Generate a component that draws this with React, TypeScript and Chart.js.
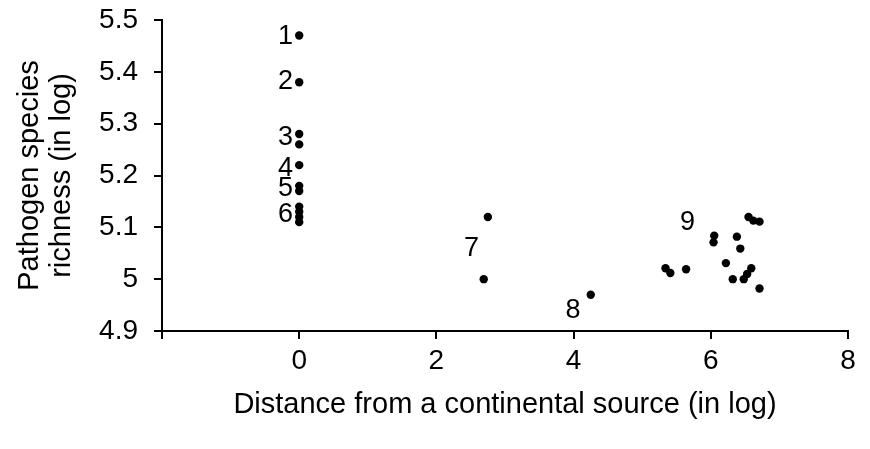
import React, { useEffect, useRef } from "react";
import { Chart, registerables } from "chart.js";

Chart.register(...registerables);

// Distance from a continental source (in log) and pathogen species richness (in log)
const distance = [
  0, 0, 0, 0, 0, 0, 0, 0, 0, 0, 0,
  2.75, 2.69,
  4.25,
  6.55, 6.62, 6.71, 6.05, 6.04, 6.38, 6.43, 5.34, 5.41, 5.64, 6.22, 6.32, 6.48, 6.53, 6.59, 6.71,
];
const richness = [
  5.47, 5.38, 5.28, 5.26, 5.22, 5.18, 5.17, 5.14, 5.13, 5.12, 5.11,
  5.12, 5.0,
  4.97,
  5.12, 5.113, 5.111, 5.084, 5.071, 5.082, 5.059, 5.021, 5.012, 5.019, 5.031, 5.0, 5.0, 5.01, 5.021, 4.982,
];

// Group annotations (text and their data-space anchor)
const groupLabels = ["1", "2", "3", "4", "5", "6", "7", "8", "9"];
const groupLabelX = [-0.2, -0.2, -0.2, -0.2, -0.2, -0.2, 2.51, 3.99, 5.66];
const groupLabelY = [5.468, 5.382, 5.274, 5.214, 5.174, 5.124, 5.06, 4.94, 5.11];

const xTickValues = [-2, 0, 2, 4, 6, 8];
const yTickValues = [4.9, 5.0, 5.1, 5.2, 5.3, 5.4, 5.5];

const xTitle = "Distance from a continental source (in log)";
const yTitle = ["Pathogen species", "richness (in log)"];

const FAMILY = '"Liberation Sans", Arial, Helvetica, sans-serif';

export default function App() {
  const ref = useRef<HTMLCanvasElement>(null);

  useEffect(() => {
    if (!ref.current) return;
    const labelPlugin = {
      id: "groupLabels",
      afterDatasetsDraw(chart: any) {
        const { ctx, scales } = chart;
        const x = scales.x;
        const y = scales.y;
        ctx.save();
        ctx.font = `27px ${FAMILY}`;
        ctx.fillStyle = "#000";
        ctx.textAlign = "center";
        ctx.textBaseline = "middle";
        groupLabels.forEach((t, i) => {
          ctx.fillText(t, x.getPixelForValue(groupLabelX[i]), y.getPixelForValue(groupLabelY[i]));
        });
        ctx.restore();
      },
    };

    const axisGrid = {
      display: true,
      drawOnChartArea: false,
      drawTicks: true,
      tickLength: 8,
      color: "#000",
      lineWidth: 2,
    };

    const chart = new Chart(ref.current, {
      type: "scatter",
      data: {
        datasets: [
          {
            data: distance.map((d, i) => ({ x: d, y: richness[i] })),
            backgroundColor: "#000",
            borderColor: "#000",
            pointRadius: 4.2,
            pointBorderWidth: 0,
            pointHoverRadius: 4.2,
          },
        ],
      },
      options: {
        responsive: false,
        animation: false,
        layout: { padding: { left: 0, right: 22, top: 20, bottom: 0 } },
        plugins: { legend: { display: false }, tooltip: { enabled: false } },
        scales: {
          x: {
            type: "linear",
            min: -2,
            max: 8,
            afterBuildTicks: (s: any) => {
              s.ticks = xTickValues.map((v) => ({ value: v }));
            },
            ticks: {
              callback: (v: any) => (v === -2 ? "" : String(v)),
              font: { family: FAMILY, size: 28 },
              color: "#000",
              padding: 5,
              maxRotation: 0,
              autoSkip: false,
            },
            grid: axisGrid,
            border: { display: true, color: "#000", width: 2 },
            title: {
              display: true,
              text: xTitle,
              font: { family: FAMILY, size: 29 },
              color: "#000",
              padding: { top: 0, bottom: 27 },
            },
            afterFit: (s: any) => {
              s.height = 118;
              s.paddingLeft = 0;
              s.paddingRight = 0;
            },
          },
          y: {
            type: "linear",
            min: 4.9,
            max: 5.5,
            afterBuildTicks: (s: any) => {
              s.ticks = yTickValues.map((v) => ({ value: v }));
            },
            ticks: {
              callback: (v: any) => String(Math.round(Number(v) * 10) / 10),
              font: { family: FAMILY, size: 28 },
              color: "#000",
              padding: 16,
              autoSkip: false,
            },
            grid: axisGrid,
            border: { display: true, color: "#000", width: 2 },
            title: {
              display: true,
              text: yTitle,
              font: { family: FAMILY, size: 29, lineHeight: 1.1 },
              color: "#000",
              padding: { top: 14, bottom: 0 },
            },
            afterFit: (s: any) => {
              s.width = 162;
              s.paddingTop = 0;
              s.paddingBottom = 0;
            },
          },
        },
      },
      plugins: [labelPlugin],
    } as any);

    return () => chart.destroy();
  }, []);

  return (
    <div style={{ position: "absolute", left: 0, top: 0, width: 870, height: 449, background: "#fff" }}>
      <canvas ref={ref} width={870} height={449} style={{ display: "block" }} />
    </div>
  );
}
